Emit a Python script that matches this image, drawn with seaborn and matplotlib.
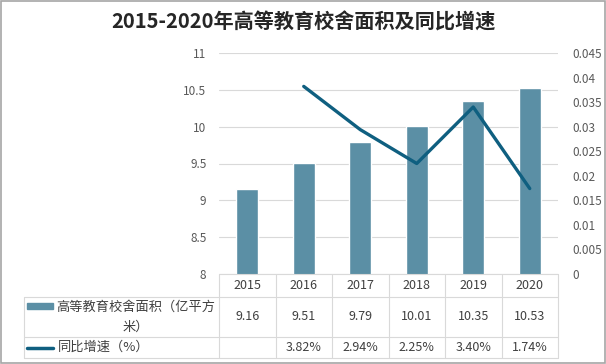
import numpy as np
import pandas as pd
import seaborn as sns
import matplotlib.pyplot as plt
from matplotlib.patches import Rectangle
from matplotlib.lines import Line2D

sns.set_theme(style='white')
plt.rcParams['font.family'] = ['Noto Sans CJK SC', 'DejaVu Sans']

years = ['2015', '2016', '2017', '2018', '2019', '2020']
area = [9.16, 9.51, 9.79, 10.01, 10.35, 10.53]
growth = [np.nan, 0.0382, 0.0294, 0.0225, 0.0340, 0.0174]
growth_labels = ['', '3.82%', '2.94%', '2.25%', '3.40%', '1.74%']
bar_name = '高等教育校舍面积（亿平方\n米）'
line_name = '同比增速（%）'
title = '2015-2020年高等教育校舍面积及同比增速'

bar_color = '#5b8fa5'
line_color = '#0f5f80'
grid_color = '#d9d9d9'
tick_color = '#595959'
text_color = '#404040'

df = pd.DataFrame({'year': years, 'area': area, 'growth': growth})
df['pos'] = np.arange(len(years))

fig = plt.figure(figsize=(6.06, 3.64), dpi=100)
ax = fig.add_axes([219 / 606, 90 / 364, 339 / 606, 221 / 364])

sns.barplot(data=df, x='year', y='area', color=bar_color, width=0.39,
            saturation=1, ax=ax, zorder=2)
ax.set_xlim(-0.5, 5.5)
ax.set_ylim(8, 11)
ax.set_yticks(np.arange(8, 11.01, 0.5))
ax.set_yticklabels(['8', '8.5', '9', '9.5', '10', '10.5', '11'])
ax.yaxis.grid(True, color=grid_color, lw=0.8, zorder=0)
ax.set_axisbelow(True)
ax.set_xticks([])
ax.set_xlabel('')
ax.set_ylabel('')
ax.tick_params(axis='y', length=0, pad=9, labelsize=8.5, labelcolor=tick_color)
for s in ax.spines.values():
    s.set_visible(False)

ax2 = ax.twinx()
sns.lineplot(data=df.dropna(), x='pos', y='growth', color=line_color, lw=2.4, ax=ax2)
ax2.set_xlim(-0.5, 5.5)
ax2.set_ylim(0, 0.045)
ticks2 = np.arange(0, 0.0451, 0.005)
ax2.set_yticks(ticks2)
ax2.set_yticklabels(['0'] + [f'{t:g}' for t in ticks2[1:]])
ax2.set_ylabel('')
ax2.set_xlabel('')
ax2.tick_params(axis='y', length=0, pad=10, labelsize=8.5, labelcolor=tick_color)
for s in ax2.spines.values():
    s.set_visible(False)

# data table under the plot
tr = ax.get_xaxis_transform()
h = 221.0
y0, y1, y2, y3 = 0, -23 / h, -63 / h, -84 / h
xl = -3.95
edges = np.arange(-0.5, 5.51, 1)

def hline(x_a, x_b, y):
    ax.add_line(Line2D([x_a, x_b], [y, y], transform=tr, color=grid_color,
                       lw=0.8, clip_on=False))

def vline(x, y_a, y_b):
    ax.add_line(Line2D([x, x], [y_a, y_b], transform=tr, color=grid_color,
                       lw=0.8, clip_on=False))

hline(-0.5, 5.5, y0)
hline(xl, 5.5, y1)
hline(xl, 5.5, y2)
hline(xl, 5.5, y3)
for e in edges:
    vline(e, y0, y3)
vline(xl, y1, y3)

for i, yr in enumerate(years):
    ax.text(i, (y0 + y1) / 2, yr, transform=tr, ha='center', va='center',
            fontsize=9, color=text_color)
    ax.text(i, (y1 + y2) / 2, f'{area[i]:.2f}', transform=tr, ha='center',
            va='center', fontsize=9, color=text_color)
    ax.text(i, (y2 + y3) / 2, growth_labels[i], transform=tr, ha='center',
            va='center', fontsize=9, color=text_color)

# legend keys in the table
ax.add_patch(Rectangle((-3.9, -0.16), 0.46, 0.03, transform=tr,
                       color=bar_color, clip_on=False))
ax.add_line(Line2D([-3.9, -3.44], [(y2 + y3) / 2, (y2 + y3) / 2], transform=tr,
                   color=line_color, lw=2.5, clip_on=False))
ax.text(-1.97, (y1 + y2) / 2, bar_name, transform=tr, ha='center', va='center',
        multialignment='center', fontsize=9.5, color=text_color, linespacing=1.75)
ax.text(-3.35, (y2 + y3) / 2, line_name, transform=tr, ha='left', va='center',
        fontsize=9.5, color=text_color)

fig.text(0.5, 1 - 22 / 364, title, ha='center', va='center', fontsize=14.5,
         fontweight='bold', color='#262626')

fig.add_artist(Rectangle((0.001, 0.002), 0.997, 0.995, transform=fig.transFigure,
                         fill=False, edgecolor='#a6a6a6', lw=1.2))

fig.savefig('out.png', dpi=100)
